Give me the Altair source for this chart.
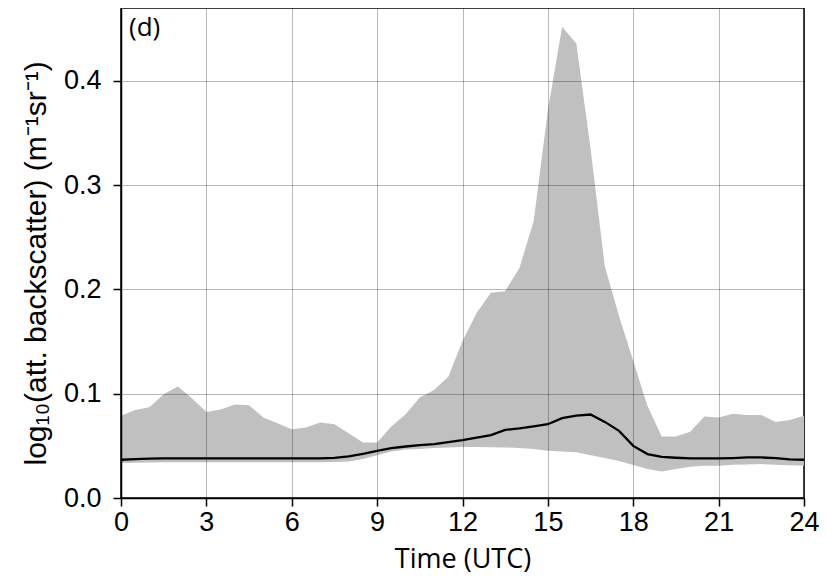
import altair as alt
import pandas as pd

times = [0.0, 0.5, 1.0, 1.5, 2.0, 2.5, 3.0, 3.5, 4.0, 4.5, 5.0, 5.5, 6.0, 6.5,
         7.0, 7.5, 8.0, 8.5, 9.0, 9.5, 10.0, 10.5, 11.0, 11.5, 12.0, 12.5,
         13.0, 13.5, 14.0, 14.5, 15.0, 15.5, 16.0, 16.5, 17.0, 17.5, 18.0,
         18.5, 19.0, 19.5, 20.0, 20.5, 21.0, 21.5, 22.0, 22.5, 23.0, 23.5, 24.0]

upper = [0.079, 0.0845, 0.087, 0.0995, 0.107, 0.0955, 0.0826, 0.085, 0.0897,
         0.089, 0.0772, 0.0718, 0.066, 0.0676, 0.0724, 0.0708, 0.0622, 0.0533,
         0.0533, 0.0686, 0.0804, 0.0963, 0.1036, 0.1164, 0.1505, 0.1777,
         0.1968, 0.1984, 0.2207, 0.2654, 0.372, 0.452, 0.436, 0.335, 0.2223,
         0.1745, 0.1314, 0.0883, 0.059, 0.059, 0.0635, 0.0782, 0.0772, 0.0807,
         0.0797, 0.0797, 0.073, 0.0749, 0.0788]

lower = [0.0335, 0.0338, 0.034, 0.0342, 0.0342, 0.0342, 0.0342, 0.0342, 0.0342,
         0.0342, 0.0342, 0.0342, 0.0342, 0.0342, 0.0342, 0.0345, 0.035, 0.0373,
         0.041, 0.0445, 0.0465, 0.047, 0.048, 0.0485, 0.049, 0.0488, 0.0486,
         0.0485, 0.048, 0.0469, 0.0453, 0.0447, 0.044, 0.0411, 0.0383, 0.0354,
         0.0316, 0.0278, 0.0255, 0.0278, 0.030, 0.031, 0.031, 0.0319, 0.0322,
         0.0325, 0.0319, 0.0313, 0.031]

median = [0.0367, 0.0372, 0.0377, 0.038, 0.038, 0.038, 0.038, 0.038, 0.038,
          0.038, 0.038, 0.038, 0.038, 0.038, 0.038, 0.0385, 0.0399, 0.0424,
          0.0453, 0.0478, 0.0494, 0.0507, 0.0517, 0.0536, 0.0555, 0.058,
          0.0603, 0.0654, 0.0667, 0.0686, 0.0708, 0.0766, 0.0791, 0.0801,
          0.073, 0.0644, 0.050, 0.0421, 0.0395, 0.0386, 0.038, 0.038, 0.038,
          0.0383, 0.0389, 0.0389, 0.0383, 0.037, 0.0367]

x_ticks = [0, 3, 6, 9, 12, 15, 18, 21, 24]
y_ticks = [0.0, 0.1, 0.2, 0.3, 0.4]

df = pd.DataFrame({"t": times, "upper": upper, "lower": lower, "median": median})

tick_font = "Liberation Sans"
title_font = "Open Sans"

xscale = alt.Scale(domain=[0, 24], nice=False, zero=False)
yscale = alt.Scale(domain=[0, 0.47], nice=False)

xaxis = alt.Axis(values=x_ticks, format="d", title="Time (UTC)",
                 titleFont=title_font, titleFontSize=27, titleFontWeight="normal",
                 titleColor="black", titlePadding=11,
                 labelFont=tick_font, labelFontSize=27, labelColor="black",
                 labelPadding=3, tickSize=8, tickColor="black", tickWidth=1.5,
                 domainColor="black", domainWidth=1.5,
                 grid=True, gridColor="black", gridOpacity=0.28, gridWidth=1,
                 zindex=1, labelFlush=False)

yaxis = alt.Axis(values=y_ticks, format=".1f",
                 title="log₁₀(att. backscatter) (m⁻¹sr⁻¹)",
                 titleFont=tick_font, titleFontSize=30, titleFontWeight="normal",
                 titleColor="black", titlePadding=12,
                 titleAlign="left", titleY=457,
                 labelFont=tick_font, labelFontSize=27, labelColor="black",
                 labelPadding=12, tickSize=8, tickColor="black", tickWidth=1.5,
                 domainColor="black", domainWidth=1.5,
                 grid=True, gridColor="black", gridOpacity=0.28, gridWidth=1,
                 zindex=1, labelFlush=False)

base = alt.Chart(df)

band = base.mark_area(color="#c0c0c0", opacity=1).encode(
    x=alt.X("t:Q", scale=xscale, axis=xaxis),
    y=alt.Y("upper:Q", scale=yscale, axis=yaxis),
    y2="lower:Q",
)

line = base.mark_line(color="black", strokeWidth=2.3).encode(
    x=alt.X("t:Q", scale=xscale),
    y=alt.Y("median:Q", scale=yscale),
)

label = alt.Chart(pd.DataFrame({"txt": ["(d)"]})).mark_text(
    font=title_font, fontSize=26, color="black", align="left", baseline="top"
).encode(x=alt.value(8), y=alt.value(7), text="txt:N")

chart = alt.layer(band, line, label).properties(
    width=683, height=490,
    autosize=alt.AutoSizeParams(type="none"),
    padding={"left": 113, "top": 0, "right": 15, "bottom": 76},
).configure_view(stroke="black", strokeWidth=1.5)

chart.save("out.html", embed_options={"renderer": "svg", "actions": False})
